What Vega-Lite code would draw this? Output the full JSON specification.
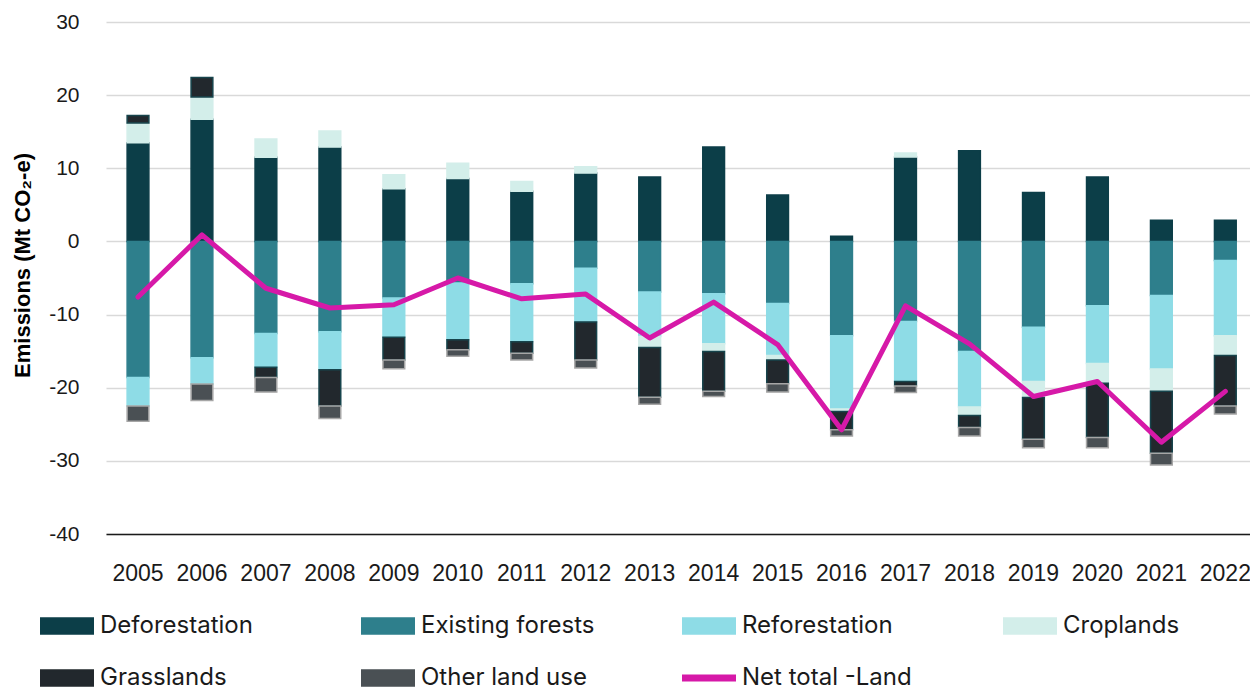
{
  "$schema": "https://vega.github.io/schema/vega-lite/v6.json",
  "width": 1144,
  "height": 512,
  "autosize": {"type": "none"},
  "padding": {"left": 106, "top": 22, "right": 0, "bottom": 153},
  "background": "white",
  "config": {"view": {"stroke": null}, "font": "Liberation Sans"},
  "datasets": {
    "seriesOrder": [
      {"series": "Deforestation", "rank": 1},
      {"series": "Existing forests", "rank": 2},
      {"series": "Reforestation", "rank": 3},
      {"series": "Croplands", "rank": 4},
      {"series": "Grasslands", "rank": 5},
      {"series": "Other land use", "rank": 6},
      {"series": "Net total -Land", "rank": 7}
    ]
  },
  "data": {
    "values": [
      {"year": "2005", "series": "Deforestation", "value": 13.5},
      {"year": "2005", "series": "Croplands", "value": 2.7},
      {"year": "2005", "series": "Grasslands", "value": 1.0},
      {"year": "2005", "series": "Existing forests", "value": -18.6},
      {"year": "2005", "series": "Reforestation", "value": -3.9},
      {"year": "2005", "series": "Other land use", "value": -2.1},
      {"year": "2005", "series": "Net total -Land", "value": -7.6},

      {"year": "2006", "series": "Deforestation", "value": 16.7},
      {"year": "2006", "series": "Croplands", "value": 3.05},
      {"year": "2006", "series": "Grasslands", "value": 2.65},
      {"year": "2006", "series": "Existing forests", "value": -15.9},
      {"year": "2006", "series": "Reforestation", "value": -3.6},
      {"year": "2006", "series": "Other land use", "value": -2.25},
      {"year": "2006", "series": "Net total -Land", "value": 0.9},

      {"year": "2007", "series": "Deforestation", "value": 11.5},
      {"year": "2007", "series": "Croplands", "value": 2.5},
      {"year": "2007", "series": "Existing forests", "value": -12.6},
      {"year": "2007", "series": "Reforestation", "value": -4.6},
      {"year": "2007", "series": "Grasslands", "value": -1.4},
      {"year": "2007", "series": "Other land use", "value": -2.0},
      {"year": "2007", "series": "Net total -Land", "value": -6.4},

      {"year": "2008", "series": "Deforestation", "value": 12.9},
      {"year": "2008", "series": "Croplands", "value": 2.2},
      {"year": "2008", "series": "Existing forests", "value": -12.35},
      {"year": "2008", "series": "Reforestation", "value": -5.2},
      {"year": "2008", "series": "Grasslands", "value": -4.95},
      {"year": "2008", "series": "Other land use", "value": -1.7},
      {"year": "2008", "series": "Net total -Land", "value": -9.1},

      {"year": "2009", "series": "Deforestation", "value": 7.2},
      {"year": "2009", "series": "Croplands", "value": 1.9},
      {"year": "2009", "series": "Existing forests", "value": -7.75},
      {"year": "2009", "series": "Reforestation", "value": -5.35},
      {"year": "2009", "series": "Grasslands", "value": -3.1},
      {"year": "2009", "series": "Other land use", "value": -1.2},
      {"year": "2009", "series": "Net total -Land", "value": -8.65},

      {"year": "2010", "series": "Deforestation", "value": 8.6},
      {"year": "2010", "series": "Croplands", "value": 2.1},
      {"year": "2010", "series": "Existing forests", "value": -5.7},
      {"year": "2010", "series": "Reforestation", "value": -7.75},
      {"year": "2010", "series": "Grasslands", "value": -1.35},
      {"year": "2010", "series": "Other land use", "value": -0.9},
      {"year": "2010", "series": "Net total -Land", "value": -5.0},

      {"year": "2011", "series": "Deforestation", "value": 6.85},
      {"year": "2011", "series": "Croplands", "value": 1.35},
      {"year": "2011", "series": "Existing forests", "value": -5.8},
      {"year": "2011", "series": "Reforestation", "value": -7.9},
      {"year": "2011", "series": "Grasslands", "value": -1.6},
      {"year": "2011", "series": "Other land use", "value": -0.9},
      {"year": "2011", "series": "Net total -Land", "value": -7.85},

      {"year": "2012", "series": "Deforestation", "value": 9.35},
      {"year": "2012", "series": "Croplands", "value": 0.85},
      {"year": "2012", "series": "Existing forests", "value": -3.65},
      {"year": "2012", "series": "Reforestation", "value": -7.35},
      {"year": "2012", "series": "Grasslands", "value": -5.2},
      {"year": "2012", "series": "Other land use", "value": -1.1},
      {"year": "2012", "series": "Net total -Land", "value": -7.2},

      {"year": "2013", "series": "Deforestation", "value": 8.8},
      {"year": "2013", "series": "Existing forests", "value": -6.9},
      {"year": "2013", "series": "Reforestation", "value": -6.1},
      {"year": "2013", "series": "Croplands", "value": -1.5},
      {"year": "2013", "series": "Grasslands", "value": -6.8},
      {"year": "2013", "series": "Other land use", "value": -0.95},
      {"year": "2013", "series": "Net total -Land", "value": -13.2},

      {"year": "2014", "series": "Deforestation", "value": 12.9},
      {"year": "2014", "series": "Existing forests", "value": -7.15},
      {"year": "2014", "series": "Reforestation", "value": -6.85},
      {"year": "2014", "series": "Croplands", "value": -1.05},
      {"year": "2014", "series": "Grasslands", "value": -5.45},
      {"year": "2014", "series": "Other land use", "value": -0.7},
      {"year": "2014", "series": "Net total -Land", "value": -8.3},

      {"year": "2015", "series": "Deforestation", "value": 6.35},
      {"year": "2015", "series": "Existing forests", "value": -8.5},
      {"year": "2015", "series": "Reforestation", "value": -7.1},
      {"year": "2015", "series": "Croplands", "value": -0.6},
      {"year": "2015", "series": "Grasslands", "value": -3.25},
      {"year": "2015", "series": "Other land use", "value": -1.15},
      {"year": "2015", "series": "Net total -Land", "value": -14.1},

      {"year": "2016", "series": "Deforestation", "value": 0.7},
      {"year": "2016", "series": "Existing forests", "value": -12.9},
      {"year": "2016", "series": "Reforestation", "value": -10.0},
      {"year": "2016", "series": "Croplands", "value": -0.35},
      {"year": "2016", "series": "Grasslands", "value": -2.5},
      {"year": "2016", "series": "Other land use", "value": -0.85},
      {"year": "2016", "series": "Net total -Land", "value": -25.75},

      {"year": "2017", "series": "Deforestation", "value": 11.55},
      {"year": "2017", "series": "Croplands", "value": 0.55},
      {"year": "2017", "series": "Existing forests", "value": -10.95},
      {"year": "2017", "series": "Reforestation", "value": -8.2},
      {"year": "2017", "series": "Grasslands", "value": -0.6},
      {"year": "2017", "series": "Other land use", "value": -0.9},
      {"year": "2017", "series": "Net total -Land", "value": -8.8},

      {"year": "2018", "series": "Deforestation", "value": 12.4},
      {"year": "2018", "series": "Existing forests", "value": -15.05},
      {"year": "2018", "series": "Reforestation", "value": -7.6},
      {"year": "2018", "series": "Croplands", "value": -1.15},
      {"year": "2018", "series": "Grasslands", "value": -1.65},
      {"year": "2018", "series": "Other land use", "value": -1.15},
      {"year": "2018", "series": "Net total -Land", "value": -14.0},

      {"year": "2019", "series": "Deforestation", "value": 6.7},
      {"year": "2019", "series": "Existing forests", "value": -11.75},
      {"year": "2019", "series": "Reforestation", "value": -7.4},
      {"year": "2019", "series": "Croplands", "value": -2.2},
      {"year": "2019", "series": "Grasslands", "value": -5.7},
      {"year": "2019", "series": "Other land use", "value": -1.15},
      {"year": "2019", "series": "Net total -Land", "value": -21.2},

      {"year": "2020", "series": "Deforestation", "value": 8.8},
      {"year": "2020", "series": "Existing forests", "value": -8.8},
      {"year": "2020", "series": "Reforestation", "value": -7.9},
      {"year": "2020", "series": "Croplands", "value": -2.7},
      {"year": "2020", "series": "Grasslands", "value": -7.4},
      {"year": "2020", "series": "Other land use", "value": -1.4},
      {"year": "2020", "series": "Net total -Land", "value": -19.15},

      {"year": "2021", "series": "Deforestation", "value": 2.9},
      {"year": "2021", "series": "Existing forests", "value": -7.4},
      {"year": "2021", "series": "Reforestation", "value": -10.05},
      {"year": "2021", "series": "Croplands", "value": -3.05},
      {"year": "2021", "series": "Grasslands", "value": -8.45},
      {"year": "2021", "series": "Other land use", "value": -1.6},
      {"year": "2021", "series": "Net total -Land", "value": -27.45},

      {"year": "2022", "series": "Deforestation", "value": 2.9},
      {"year": "2022", "series": "Existing forests", "value": -2.6},
      {"year": "2022", "series": "Reforestation", "value": -10.3},
      {"year": "2022", "series": "Croplands", "value": -2.7},
      {"year": "2022", "series": "Grasslands", "value": -6.9},
      {"year": "2022", "series": "Other land use", "value": -1.1},
      {"year": "2022", "series": "Net total -Land", "value": -20.5}
    ]
  },
  "encoding": {
    "x": {
      "field": "year",
      "type": "nominal",
      "title": null,
      "scale": {"paddingInner": 0.66, "paddingOuter": 0.273, "align": 0.605},
      "axis": {
        "labelAngle": 0,
        "labelFontSize": 23,
        "labelColor": "#1a1a1a",
        "labelPadding": 28,
        "ticks": false,
        "domain": true,
        "domainColor": "#1a1a1a",
        "domainWidth": 1.5,
        "grid": false
      }
    }
  },
  "layer": [
    {
      "transform": [
        {"filter": "datum.series !== 'Net total -Land'"},
        {"lookup": "series", "from": {"data": {"name": "seriesOrder"}, "key": "series", "fields": ["rank"]}}
      ],
      "mark": {"type": "bar", "strokeWidth": 1.5},
      "encoding": {
        "y": {
          "field": "value",
          "type": "quantitative",
          "stack": "zero",
          "scale": {"domain": [-40, 30], "nice": false},
          "axis": {
            "title": "Emissions (Mt CO₂-e)",
            "titleFontSize": 22,
            "titleFontWeight": "bold",
            "titleColor": "#000000",
            "titleAngle": -90,
            "titleX": -84,
            "titleY": 243,
            "titleAlign": "center",
            "titleBaseline": "middle",
            "values": [-40, -30, -20, -10, 0, 10, 20, 30],
            "labelExpr": "'' + datum.value",
            "labelFontSize": 21,
            "labelColor": "#1a1a1a",
            "labelPadding": 27,
            "ticks": false,
            "domain": false,
            "grid": true,
            "gridColor": "#D9D9D9",
            "gridWidth": 1.5
          }
        },
        "order": {"field": "rank", "type": "quantitative", "sort": "ascending"},
        "color": {
          "field": "series",
          "type": "nominal",
          "sort": ["Deforestation", "Existing forests", "Reforestation", "Croplands", "Grasslands", "Other land use", "Net total -Land"],
          "scale": {
            "domain": ["Deforestation", "Existing forests", "Reforestation", "Croplands", "Grasslands", "Other land use", "Net total -Land"],
            "range": ["#0C3E48", "#2E7F8C", "#8EDCE6", "#D3EEEA", "#22282D", "#4A5054", "#D619A8"]
          },
          "legend": {
            "title": null,
            "orient": "none",
            "legendX": -66,
            "legendY": 577,
            "direction": "horizontal",
            "columns": 4,
            "gridAlign": "all",
            "columnPadding": 84,
            "rowPadding": 13,
            "padding": 0,
            "symbolType": "M-1,-0.3H1V0.3H-1Z",
            "symbolSize": 2704,
            "symbolStrokeWidth": 0,
            "labelFont": "Inter",
            "labelFontSize": 24,
            "labelColor": "#1a1a1a",
            "labelOffset": 6,
            "labelLimit": 400,
            "encode": {
              "symbols": {
                "update": {
                  "shape": {"signal": "datum.value === 'Net total -Land' ? 'M-1,-0.1H1V0.1H-1Z' : 'M-1,-0.3H1V0.3H-1Z'"},
                  "stroke": {"signal": "datum.value === 'Other land use' ? '#A6A6A6' : (datum.value === 'Grasslands' ? '#17444C' : 'transparent')"},
                  "strokeWidth": {"value": 2}
                }
              }
            }
          }
        },
        "stroke": {
          "field": "series",
          "type": "nominal",
          "scale": {
            "domain": ["Deforestation", "Existing forests", "Reforestation", "Croplands", "Grasslands", "Other land use"],
            "range": ["#0C3E48", "#2E7F8C", "#8EDCE6", "#D3EEEA", "#17444C", "#A6A6A6"]
          },
          "legend": null
        }
      }
    },
    {
      "transform": [{"filter": "datum.series === 'Net total -Land'"}],
      "mark": {"type": "line", "strokeWidth": 5, "strokeJoin": "round", "strokeCap": "round"},
      "encoding": {
        "y": {"field": "value", "type": "quantitative"},
        "color": {"field": "series", "type": "nominal"}
      }
    }
  ]
}
